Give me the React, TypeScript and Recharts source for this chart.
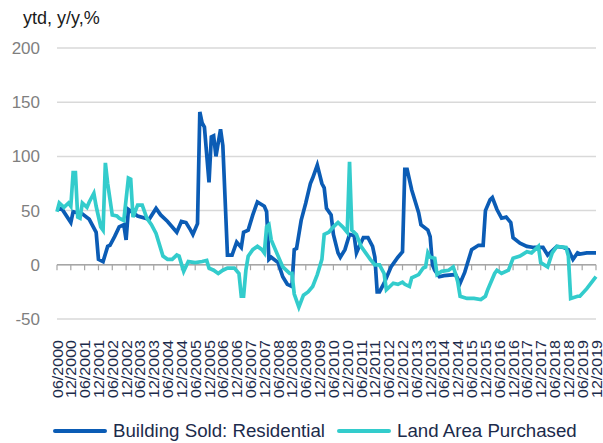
import { CartesianGrid, Legend, Line, LineChart, ReferenceLine, XAxis, YAxis } from "recharts";

const RES_COLOR = "#0b5cb5";   // building sold
const LAND_COLOR = "#33cccc";  // land purchased
const TEXT_NAVY = "#1c2b4b";
const AXIS_GRAY = "#a6a6a6";
const FONT = '"Liberation Sans", Arial, sans-serif';

// months since 06/2000
const RES_MONTHS = [
  0, 2, 6, 7, 11, 14, 17, 18, 20, 22, 23, 25, 27, 29, 30, 31, 35, 40, 43, 45, 48, 52, 54, 56, 58, 59, 61,
  62, 63, 64, 66, 67, 68, 69, 71, 72, 74, 76, 78, 80, 81, 83, 85, 87, 90, 91, 92, 93, 96, 98, 100, 102,
  103, 104, 106, 108, 110, 111, 113, 115, 116, 117, 119, 120, 122, 123, 125, 127, 129, 130, 131, 133,
  135, 137, 138, 139, 140, 142, 145, 148, 150, 151, 152, 154, 157, 158, 161, 162, 163, 164, 166, 168,
  173, 175, 177, 180, 183, 185, 186, 188, 189, 191, 193, 195, 197, 198, 201, 204, 207, 211, 213, 217,
  220, 222, 224, 226, 227, 230, 234,
];
const RES_VALUES = [
  51, 52, 39, 49, 47, 42, 30, 5, 3, 17, 18, 26, 35, 37, 23, 51, 45, 42, 52, 46, 40, 30, 40, 39, 32, 28, 38,
  141, 131, 127, 76, 118, 119, 100, 125, 110, 9, 9, 21, 16, 30, 32, 46, 58, 54, 49, 5, 7, 2, -11, -18, -20,
  14, 15, 41, 57, 75, 80, 92, 75, 71, 52, 46, 28, 11, 7, 14, 28, 27, 11, 16, 25,
  25, 17, 7, -25, -25, -17, -2, 7, 12, 88, 88, 69, 48, 37, 32, 26, 0, -5, -11, -10,
  -9, -17, -7, 14, 18, 18, 50, 60, 62, 51, 43, 44, 39, 25, 20, 17, 16, 16, 9, 17,
  16, 14, 5, 11, 10, 11, 11,
];

const LAND_MONTHS = [
  0, 1, 3, 5, 6, 7, 8, 9, 10, 11, 13, 14, 16, 17, 19, 20, 21, 22, 24, 26, 27, 29, 31, 32, 33, 35, 37, 39,
  41, 43, 46, 48, 50, 52, 53, 55, 57, 60, 63, 65, 66, 68, 70, 72, 74, 77, 79, 80, 81, 82, 83, 85, 87, 89,
  90, 91, 92, 93, 96, 98, 101, 102, 103, 105, 107, 109, 111, 113, 115, 116, 118, 120, 122, 124, 126,
  127, 128, 130, 132, 134, 136, 138, 140, 142, 143, 146, 148, 150, 151, 153, 154, 157, 159, 160, 161,
  162, 164, 165, 167, 170, 172, 173, 174, 175, 178, 181, 184, 186, 187, 188, 190, 191, 193, 196, 198,
  201, 204, 206, 209, 210, 213, 215, 217, 221, 222, 223, 226, 227, 230, 234,
];
const LAND_VALUES = [
  49, 57, 53, 57, 54, 85, 85, 44, 43, 57, 53, 58, 66, 54, 35, 32, 94, 75, 46, 45, 43, 41, 80, 79, 44, 55, 55, 43,
  37, 29, 8, 5, 5, 9, 8, -6, 3, 2, 3, 4, -3, -5, -8, -5, -3, -3, -8, -29, -29, -5, 8, 14, 17, 14,
  11, 35, 37, 23, 8, -2, -8, -8, -27, -39, -28, -25, -20, -9, 5, 28, 30, 35, 39, 35, 30,
  95, 32, 28, 17, 11, 5, 0, 0, -8, -23, -17, -18, -16, -18, -20, -12, -9, -3, -2, 11,
  7, 6, -9, -6, -5, -2, -8, -16, -29, -31, -31, -32, -29, -23, -18, -8, -5, -8, -5, 6,
  8, 12, 11, 17, 2, -2, 11, 17, 16, 8, -31, -29, -29, -22, -11,
];

const TICK_LABELS = [
  "06/2000", "12/2000", "06/2001", "12/2001", "06/2002", "12/2002", "06/2003", "12/2003",
  "06/2004", "12/2004", "06/2005", "12/2005", "06/2006", "12/2006", "06/2007", "12/2007",
  "06/2008", "12/2008", "06/2009", "12/2009", "06/2010", "12/2010", "06/2011", "12/2011",
  "06/2012", "12/2012", "06/2013", "12/2013", "06/2014", "12/2014", "06/2015", "12/2015",
  "06/2016", "12/2016", "06/2017", "12/2017", "06/2018", "12/2018", "06/2019", "12/2019",
];
const TICK_MONTHS = TICK_LABELS.map((_, i) => i * 6);
const Y_TICKS = [-50, 0, 50, 100, 150, 200];

const resData = RES_MONTHS.map((t, i) => ({ t, v: RES_VALUES[i] }));
const landData = LAND_MONTHS.map((t, i) => ({ t, v: LAND_VALUES[i] }));

function DateTick({ x, y, payload }: any) {
  const label = TICK_LABELS[Math.round(payload.value / 6)] ?? "";
  const ax = x + 5.5;
  const ay = y + 13;
  return (
    <text
      x={ax}
      y={ay}
      transform={`rotate(-90, ${ax}, ${ay})`}
      textAnchor="end"
      fill={TEXT_NAVY}
      fontSize={14.5}
      fontFamily={FONT}
      textLength={58}
      lengthAdjust="spacingAndGlyphs"
    >
      {label}
    </text>
  );
}

function LegendBox() {
  const item = (left: number, color: string, text: string) => (
    <div style={{ position: "absolute", left, top: 20, display: "flex", alignItems: "center", height: 24 }}>
      <div style={{ width: 54, height: 4, background: color, borderRadius: 2, marginRight: 6 }} />
      <span style={{ fontSize: 18.7, color: TEXT_NAVY, fontFamily: FONT, whiteSpace: "nowrap" }}>{text}</span>
    </div>
  );
  return (
    <div style={{ position: "relative", width: 603, height: 44 }}>
      {item(53, RES_COLOR, "Building Sold: Residential")}
      {item(337, LAND_COLOR, "Land Area Purchased")}
    </div>
  );
}

export default function App() {
  return (
    <div style={{ position: "relative", width: 603, height: 443, background: "#fff", fontFamily: FONT }}>
      <style>{`body{margin:0}`}</style>
      <div style={{ position: "absolute", left: 23, top: 8, fontSize: 18, color: "#1a1a1a", zIndex: 1 }}>
        ytd, y/y,%
      </div>
      <LineChart width={603} height={443} margin={{ top: 48, right: 7, left: 0, bottom: 0 }}>
        <CartesianGrid stroke="#d9d9d9" strokeWidth={1.5} vertical={false} />
        <XAxis
          type="number"
          dataKey="t"
          domain={[0, 234]}
          ticks={TICK_MONTHS}
          interval={0}
          height={80}
          axisLine={false}
          tickLine={false}
          tick={<DateTick />}
        />
        <YAxis
          type="number"
          domain={[-50, 200]}
          ticks={Y_TICKS}
          width={57}
          axisLine={false}
          tickLine={false}
          tickMargin={11}
          tick={{ fill: "#7f7f7f", fontSize: 17, fontFamily: FONT }}
        />
        <ReferenceLine y={0} stroke={AXIS_GRAY} strokeWidth={1.5} />
        {TICK_MONTHS.map((t) => (
          <ReferenceLine
            key={t}
            segment={[{ x: t, y: 0 }, { x: t, y: -5 }]}
            stroke={AXIS_GRAY}
            strokeWidth={1.2}
          />
        ))}
        <Line
          data={resData}
          dataKey="v"
          type="linear"
          stroke={RES_COLOR}
          strokeWidth={3.7}
          dot={false}
          isAnimationActive={false}
          name="Building Sold: Residential"
        />
        <Line
          data={landData}
          dataKey="v"
          type="linear"
          stroke={LAND_COLOR}
          strokeWidth={3.7}
          dot={false}
          isAnimationActive={false}
          name="Land Area Purchased"
        />
        <Legend verticalAlign="bottom" height={44} content={() => <LegendBox />} />
      </LineChart>
    </div>
  );
}
